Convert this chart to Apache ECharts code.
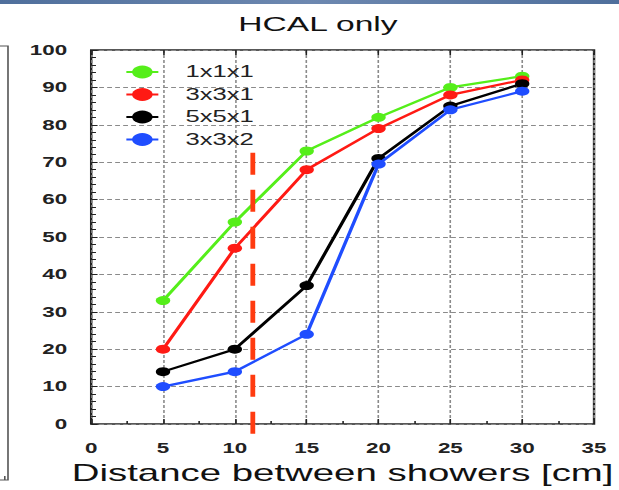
<!DOCTYPE html>
<html>
<head>
<meta charset="utf-8">
<title>HCAL only</title>
<script src="https://cdn.jsdelivr.net/npm/echarts@6/dist/echarts.min.js"></script>
<style>
  html, body { margin: 0; padding: 0; background: #fff; overflow: hidden; }
  /* the figure is drawn on a narrower canvas and widened horizontally */
  #chart { width: 387px; height: 490px; transform: scaleX(1.5995); transform-origin: 0 0; }
</style>
</head>
<body>
<div id="chart"></div>
<script>
// Distance between the two showers (cm)
const distances = [5, 10, 15, 20, 25, 30];

// Separation efficiency (%) for each clustering cell size
const seriesNames = ['1x1x1', '3x3x1', '5x5x1', '3x3x2'];
const eff1x1x1 = [33, 54, 73, 82, 90, 93];
const eff3x3x1 = [20, 47, 68, 79, 88, 92];
const eff5x5x1 = [14, 20, 37, 71, 85, 91];
const eff3x3x2 = [10, 14, 24, 69.5, 84, 89];
const seriesColors = ['#55ee1a', '#ff1a14', '#000000', '#1f4dff'];

// Vertical reference cut
const cutDistance = 11.25;
const cutSpan = [72.5, -6];

// Axis ranges
const xMin = 0, xMax = 35, xStep = 5;
const yMin = 0, yMax = 100, yStep = 10;

const FONT = '"Liberation Sans", Arial, Helvetica, sans-serif';
const effData = [eff1x1x1, eff3x3x1, eff5x5x1, eff3x3x2];

const chart = echarts.init(document.getElementById('chart'), null, { renderer: 'svg' });

const dataSeries = seriesNames.map((name, i) => ({
  name: name,
  type: 'line',
  data: distances.map((d, k) => [d, effData[i][k]]),
  symbol: 'circle',
  symbolSize: 9,
  color: seriesColors[i],
  lineStyle: { width: 2.2, color: seriesColors[i] },
  itemStyle: { color: seriesColors[i] },
  z: 3 + i
}));

dataSeries.push({
  name: 'cut',
  type: 'line',
  data: cutSpan.map(v => [cutDistance, v]),
  symbol: 'none',
  clip: false,
  silent: true,
  lineStyle: { color: '#ff3b10', width: 3, type: [22, 15] },
  z: 10
});

const gridDots = { show: true, lineStyle: { color: '#8a8a8a', width: 1, type: [3, 2] } };

chart.setOption({
  animation: false,
  backgroundColor: '#ffffff',
  title: {
    text: 'HCAL only',
    left: 144,
    top: 8,
    textStyle: { fontFamily: FONT, fontSize: 21, fontWeight: 'normal', color: '#111' }
  },
  legend: {
    data: seriesNames,
    orient: 'vertical',
    left: 73,
    top: 59,
    itemWidth: 20,
    itemHeight: 16,
    itemGap: 6.5,
    textStyle: { fontFamily: FONT, fontSize: 16, color: '#222', padding: [0, 0, 0, 12] }
  },
  grid: {
    left: 57, right: 15.6, top: 50, bottom: 65,
    show: true, borderColor: '#222', borderWidth: 1.5, backgroundColor: 'transparent'
  },
  xAxis: [{
    type: 'value',
    min: xMin, max: xMax, interval: xStep,
    name: 'Distance between showers [cm]',
    nameLocation: 'middle',
    nameGap: 37,
    nameTextStyle: { fontFamily: FONT, fontSize: 24, color: '#111' },
    axisLine: { show: false },
    axisTick: { show: true, inside: true, length: 5, lineStyle: { color: '#222' } },
    minorTick: { show: true, splitNumber: 2, length: 3, lineStyle: { color: '#222' } },
    axisLabel: { margin: 17, fontFamily: FONT, fontSize: 14, fontWeight: 'bold', color: '#222' },
    splitLine: gridDots
  }, {
    type: 'value',
    position: 'top',
    min: xMin, max: xMax, interval: xStep,
    axisLine: { show: false },
    axisTick: { show: true, inside: true, length: 5, lineStyle: { color: '#222' } },
    axisLabel: { show: false },
    splitLine: { show: false }
  }],
  yAxis: {
    type: 'value',
    min: yMin, max: yMax, interval: yStep,
    axisLine: { show: false },
    axisTick: { show: true, inside: true, length: 4, lineStyle: { color: '#222' } },
    minorTick: { show: true, splitNumber: 5, length: 3, lineStyle: { color: '#222' } },
    axisLabel: { margin: 15, fontFamily: FONT, fontSize: 14, fontWeight: 'bold', color: '#222' },
    splitLine: gridDots
  },
  graphic: [
    {
      type: 'rect',
      shape: { x: 0, y: 0, width: 387, height: 4 },
      style: {
        fill: new echarts.graphic.LinearGradient(0, 0, 1, 0, [
          { offset: 0, color: '#4f6f9c' },
          { offset: 0.5, color: '#6d88b0' },
          { offset: 1, color: '#4f6f9c' }
        ])
      },
      silent: true
    },
    {
      type: 'polyline',
      shape: { points: [[0, 46], [5, 46], [5, 480], [0, 480]] },
      style: { stroke: '#555', lineWidth: 1, fill: null },
      silent: true
    },
    {
      type: 'line',
      shape: { x1: 3, y1: 476, x2: 3, y2: 480 },
      style: { stroke: '#555', lineWidth: 1 },
      silent: true
    }
  ],
  series: dataSeries
});
</script>
</body>
</html>
